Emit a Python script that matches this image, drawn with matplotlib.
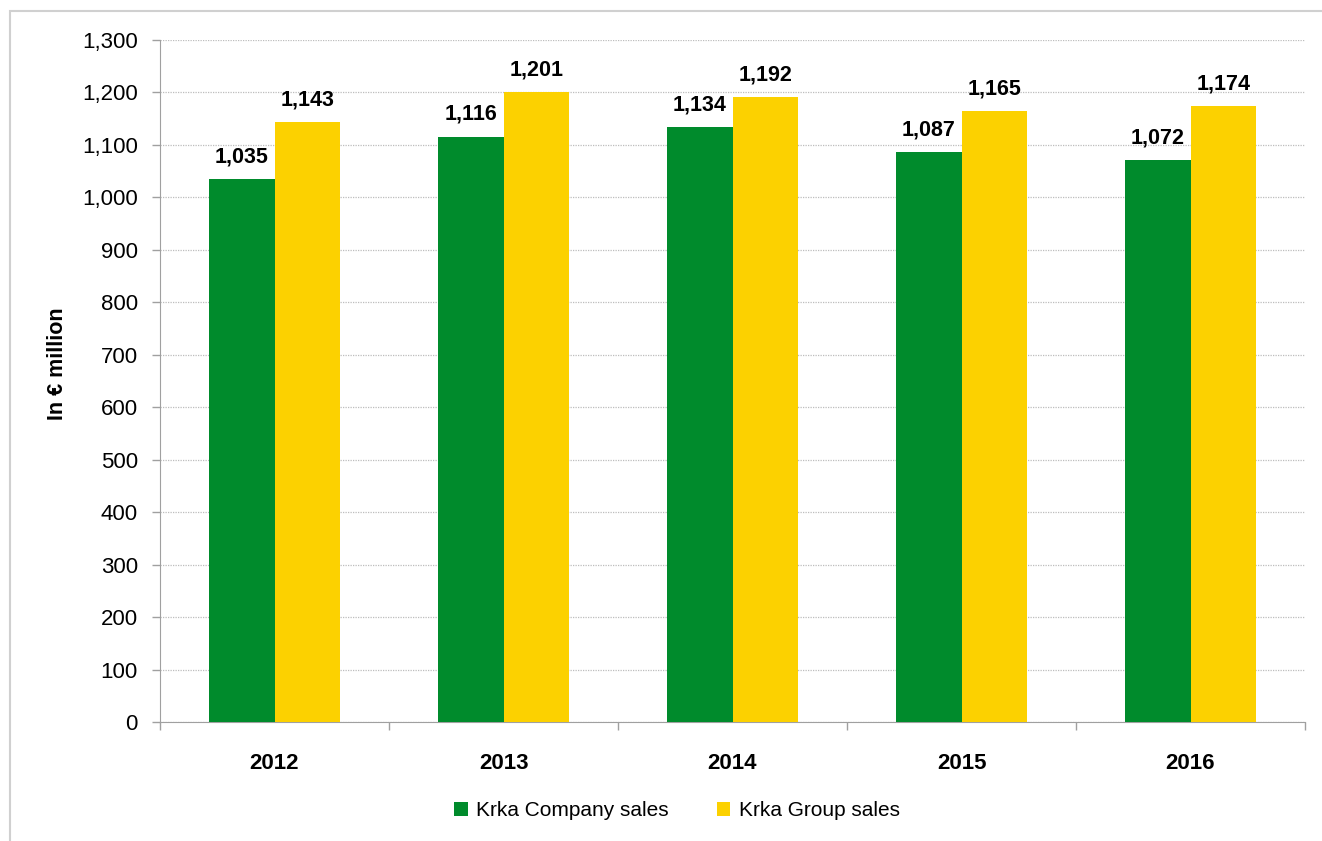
import numpy as np
import matplotlib.pyplot as plt
from matplotlib import font_manager
from matplotlib.patches import Rectangle

years = ['2012', '2013', '2014', '2015', '2016']
company_sales = [1035, 1116, 1134, 1087, 1072]
group_sales = [1143, 1201, 1192, 1165, 1174]

names = {f.name for f in font_manager.fontManager.ttflist}
fam = ['Liberation Sans Narrow', 'Liberation Sans', 'DejaVu Sans']
fam = [f for f in fam if f in names] or ['DejaVu Sans']
plt.rcParams['font.family'] = fam

green = '#008B2C'
yellow = '#FCD100'

fig = plt.figure(figsize=(13.22, 8.41), dpi=100)
fig.patches.append(Rectangle((10 / 1322, -0.1), 1.2, 1 - 11 / 841 + 0.1, transform=fig.transFigure,
                             fill=False, edgecolor='#D0D0D0', linewidth=1.5))
ax = fig.add_axes([160 / 1322, 1 - 722 / 841, 1145 / 1322, 682 / 841])

x = np.arange(len(years))
w = 0.286
b1 = ax.bar(x - w / 2, company_sales, w, color=green, label='Krka Company sales', zorder=3)
b2 = ax.bar(x + w / 2, group_sales, w, color=yellow, label='Krka Group sales', zorder=3)

# value labels on top of the bars
for bars, vals in ((b1, company_sales), (b2, group_sales)):
    for r, v in zip(bars, vals):
        ax.text(r.get_x() + r.get_width() / 2, v + 22, '{:,}'.format(v),
                ha='center', va='bottom', fontsize=15.5, fontweight='bold')

ax.set_xlim(-0.5, len(years) - 0.5)
ax.set_ylim(0, 1300)
ax.set_yticks(range(0, 1301, 100))
ax.set_yticklabels(['{:,}'.format(t) for t in range(0, 1301, 100)], fontsize=16)
ax.set_xticks(x)
ax.set_xticklabels(years, fontsize=16, fontweight='bold')
ax.set_xticks(np.arange(-0.5, len(years)), minor=True)
ax.tick_params(axis='x', which='major', length=0, pad=22)
ax.tick_params(axis='x', which='minor', length=6, color='#A0A0A0', width=1)
ax.tick_params(axis='y', length=6, color='#A0A0A0', width=1, pad=10)
ax.set_ylabel('In € million', fontsize=15.5, fontweight='bold')
ax.yaxis.set_label_coords(-0.080, 0.525)

ax.grid(axis='y', linestyle=(0, (1, 1)), color='#BDBDBD', linewidth=0.9, zorder=0)
for s in ['top', 'right']:
    ax.spines[s].set_visible(False)
ax.spines['left'].set_color('#A0A0A0')
ax.spines['bottom'].set_color('#A0A0A0')

fig.legend(loc='center', bbox_to_anchor=(677 / 1322, 1 - 811 / 841), ncol=2, frameon=False,
           fontsize=15, handlelength=0.65, handleheight=0.65, handletextpad=0.4, columnspacing=2.3)

fig.savefig('out.png', dpi=100)
